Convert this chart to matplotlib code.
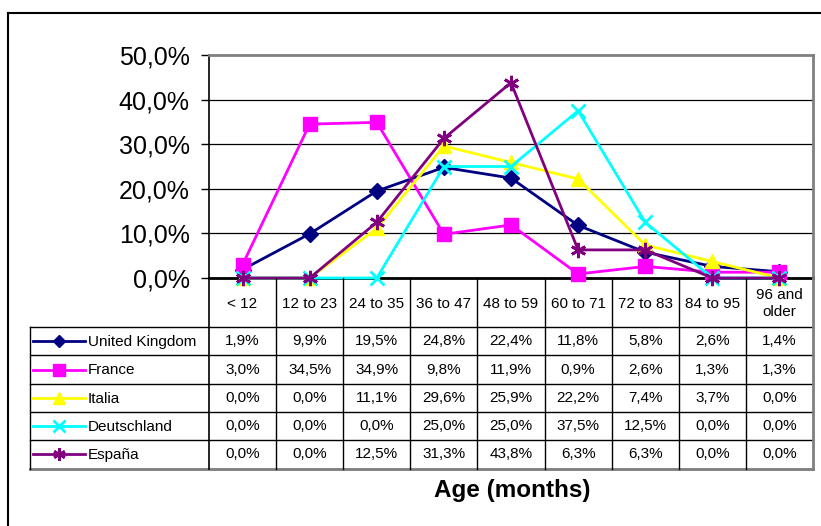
import matplotlib
matplotlib.use("Agg")
import matplotlib.pyplot as plt
import numpy as np

plt.rcParams['font.family'] = ['Liberation Sans', 'DejaVu Sans']

categories = ["< 12", "12 to 23", "24 to 35", "36 to 47", "48 to 59",
              "60 to 71", "72 to 83", "84 to 95", "96 and\nolder"]
uk = [1.9, 9.9, 19.5, 24.8, 22.4, 11.8, 5.8, 2.6, 1.4]
france = [3.0, 34.5, 34.9, 9.8, 11.9, 0.9, 2.6, 1.3, 1.3]
italia = [0.0, 0.0, 11.1, 29.6, 25.9, 22.2, 7.4, 3.7, 0.0]
deutschland = [0.0, 0.0, 0.0, 25.0, 25.0, 37.5, 12.5, 0.0, 0.0]
espana = [0.0, 0.0, 12.5, 31.3, 43.8, 6.3, 6.3, 0.0, 0.0]
series_names = ["United Kingdom", "France", "Italia", "Deutschland", "España"]
yticks = [0, 10, 20, 30, 40, 50]
xlabel = "Age (months)"

series = [uk, france, italia, deutschland, espana]
styles = [
    dict(color="#000080", marker="D", ms=8, mfc="#000080", mec="#000080", mew=1),
    dict(color="#FF00FF", marker="s", ms=10, mfc="#FF00FF", mec="#FF00FF", mew=1),
    dict(color="#FFFF00", marker="^", ms=10, mfc="#FFFF00", mec="#FFFF00", mew=1),
    dict(color="#00FFFF", marker="x", ms=10, mfc="#00FFFF", mec="#00FFFF", mew=2),
    dict(color="#800080", marker=(6, 2, 0), ms=11, mfc="#800080", mec="#800080", mew=2),
]

W, H = 821, 526
fig = plt.figure(figsize=(W / 100, H / 100), dpi=100)
fig.patch.set_facecolor("white")

# pixel layout
pl, pr, pt, pb = 209, 813, 55, 278
ax = fig.add_axes([pl / W, 1 - pb / H, (pr - pl) / W, (pb - pt) / H])
n = len(categories)
x = np.arange(n)
ax.set_xlim(-0.5, n - 0.5)
ax.set_ylim(0, 50)
ax.set_yticks(yticks)
ax.set_yticklabels([f"{v:.1f}%".replace(".", ",") for v in yticks], fontsize=18)
ax.set_xticks([])
ax.tick_params(axis="y", direction="out", length=6, width=1, color="black", pad=8)
for yv in yticks[1:-1]:
    ax.axhline(yv, color="black", lw=0.9, zorder=1)
ax.spines["left"].set_color("black")
ax.spines["left"].set_linewidth(1.2)
ax.spines["bottom"].set_color("black")
ax.spines["bottom"].set_linewidth(2)
ax.spines["top"].set_color("#808080")
ax.spines["top"].set_linewidth(2)
ax.spines["right"].set_color("#808080")
ax.spines["right"].set_linewidth(2)
for i, (vals, st) in enumerate(zip(series, styles)):
    ax.plot(x, vals, lw=2, zorder=3 + i, clip_on=False, **st)

# overlay in pixel coordinates for frame and data table
ov = fig.add_axes([0, 0, 1, 1], facecolor="none")
ov.set_xlim(0, W)
ov.set_ylim(H, 0)
ov.axis("off")

# outer frame
ov.plot([8, 8], [13, H], color="black", lw=1.5)
ov.plot([8, W], [13, 13], color="black", lw=1.5)

cw = (pr - pl) / n
rows = [327, 355.3, 383.7, 412, 440.3, 468.6]
tl = 30
# horizontal lines
for r in rows:
    ov.plot([tl, pr], [r, r], color="black", lw=1, zorder=2)
ov.plot([tl, pr], [rows[-1], rows[-1]], color="#808080", lw=2, zorder=2)
# vertical lines
ov.plot([tl, tl], [rows[0], rows[-1]], color="black", lw=1)
ov.plot([pl, pl], [pb, rows[-1]], color="black", lw=1.2)
for k in range(1, n):
    xx = pl + k * cw
    ov.plot([xx, xx], [pb, rows[-1]], color="black", lw=1)
ov.plot([pr, pr], [pb, rows[-1]], color="#808080", lw=2)

# header labels
for k, c in enumerate(categories):
    ov.text(pl + (k + 0.5) * cw, (pb + rows[0]) / 2 + 1, c, ha="center", va="center",
            fontsize=11, linespacing=1.3)

# rows
for i, (name, vals, st) in enumerate(zip(series_names, series, styles)):
    yc = (rows[i] + rows[i + 1]) / 2
    ov.plot([33, 85], [yc, yc], color=st["color"], lw=2)
    lst = dict(st)
    lst["ms"] = st["ms"] * 0.8
    ov.plot([59], [yc], linestyle="none", **{k: v for k, v in lst.items() if k != "color"})
    ov.text(88, yc + 1, name, ha="left", va="center", fontsize=11)
    for k, v in enumerate(vals):
        ov.text(pl + (k + 0.5) * cw, yc, f"{v:.1f}%".replace(".", ","),
                ha="center", va="center", fontsize=11)

ov.text(512, 491, xlabel, ha="center", va="center", fontsize=17.5, fontweight="bold")

fig.savefig("out.png", dpi=100)
